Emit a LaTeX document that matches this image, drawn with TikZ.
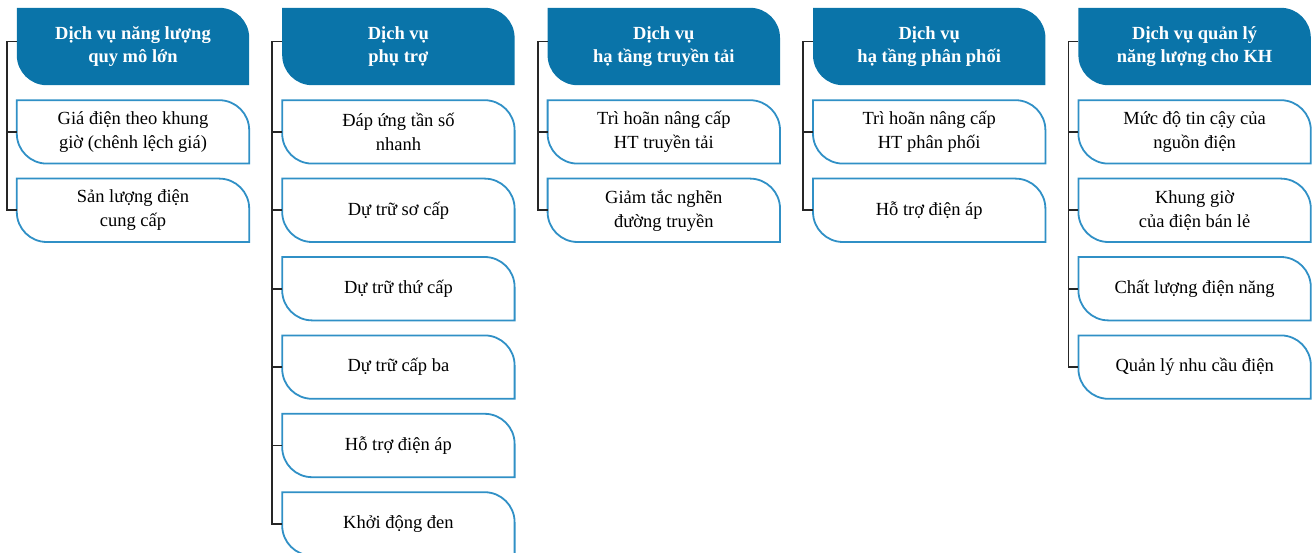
\documentclass[tikz,border=0pt]{standalone}
\usepackage{fontspec}
\setmainfont{Liberation Serif}
\usepackage{tikz}
\usetikzlibrary{backgrounds,positioning}
\definecolor{xanhdam}{HTML}{0A74A9}
\definecolor{xanhvien}{HTML}{3090C6}
\tikzstyle{khung}=[
	rectangle,
	align=center,
	inner sep=0pt,
	minimum width=232pt]
\tikzstyle{tieude}=[
	khung,
	minimum height=77pt,
	text=white,
	font=\fontsize{18.5}{23}\selectfont\bfseries]
\tikzstyle{muc}=[
	khung,
	minimum height=63pt,
	font=\fontsize{18.5}{24}\selectfont]
\tikzstyle{noi}=[
	draw=black!85,
	line width=1.8pt]
% vien bo tron goc tren phai va duoi trai
\newcommand{\vienla}[2]{%
	\path[#2] (#1.north west) -- ([xshift=-30pt]#1.north east)
		arc[start angle=90,end angle=0,radius=30pt] -- (#1.south east)
		-- ([xshift=30pt]#1.south west)
		arc[start angle=270,end angle=180,radius=30pt] -- cycle;}

\begin{document}
\begin{tikzpicture}[node distance=15pt and 33pt]
	\useasboundingbox (0,0) rectangle (1313pt,-553pt);
	\begin{scope}
		% cac tieu de
		\node[tieude]	(nl)	at (133pt,-46.5pt)	{Dịch vụ năng lượng\\quy mô lớn};
		\node[tieude]	(pt)	[right=of nl]	{Dịch vụ\\phụ trợ};
		\node[tieude]	(tt)	[right=of pt]	{Dịch vụ\\hạ tầng truyền tải};
		\node[tieude]	(pp)	[right=of tt]	{Dịch vụ\\hạ tầng phân phối};
		\node[tieude]	(kh)	[right=of pp]	{Dịch vụ quản lý\\năng lượng cho KH};
		% cot 1
		\node[muc]	(nl1)	[below=of nl]	{Giá điện theo khung\\giờ (chênh lệch giá)};
		\node[muc]	(nl2)	[below=of nl1]	{Sản lượng điện\\cung cấp};
		% cot 2
		\node[muc]	(pt1)	[below=of pt]	{Đáp ứng tần số\\nhanh};
		\node[muc]	(pt2)	[below=of pt1]	{Dự trữ sơ cấp};
		\node[muc]	(pt3)	[below=of pt2]	{Dự trữ thứ cấp};
		\node[muc]	(pt4)	[below=of pt3]	{Dự trữ cấp ba};
		\node[muc]	(pt5)	[below=of pt4]	{Hỗ trợ điện áp};
		\node[muc]	(pt6)	[below=of pt5]	{Khởi động đen};
		% cot 3
		\node[muc]	(tt1)	[below=of tt]	{Trì hoãn nâng cấp\\HT truyền tải};
		\node[muc]	(tt2)	[below=of tt1]	{Giảm tắc nghẽn\\đường truyền};
		% cot 4
		\node[muc]	(pp1)	[below=of pp]	{Trì hoãn nâng cấp\\HT phân phối};
		\node[muc]	(pp2)	[below=of pp1]	{Hỗ trợ điện áp};
		% cot 5
		\node[muc]	(kh1)	[below=of kh]	{Mức độ tin cậy của\\nguồn điện};
		\node[muc]	(kh2)	[below=of kh1]	{Khung giờ\\của điện bán lẻ};
		\node[muc]	(kh3)	[below=of kh2]	{Chất lượng điện năng};
		\node[muc]	(kh4)	[below=of kh3]	{Quản lý nhu cầu điện};
	\end{scope}
	\begin{scope}[on background layer]
		\foreach \h in {nl,pt,tt,pp,kh}
			\vienla{\h}{fill=xanhdam};
		\foreach \m in {nl1,nl2,pt1,pt2,pt3,pt4,pt5,pt6,tt1,tt2,pp1,pp2,kh1,kh2,kh3,kh4}
			\vienla{\m}{draw=xanhvien,line width=1.8pt,fill=white};
	\end{scope}
	% duong noi ben trai moi cot
	\foreach \h/\cuoi in {nl/nl2,pt/pt6,tt/tt2,pp/pp2,kh/kh4}
		\draw[noi] ([yshift=5pt]\h.west) -- ++(-10pt,0) |- (\cuoi.west);
	\foreach \m in {nl1,pt1,pt2,pt3,pt4,pt5,tt1,pp1,kh1,kh2,kh3}
		\draw[noi] (\m.west) -- ++(-10pt,0);
\end{tikzpicture}
\end{document}
